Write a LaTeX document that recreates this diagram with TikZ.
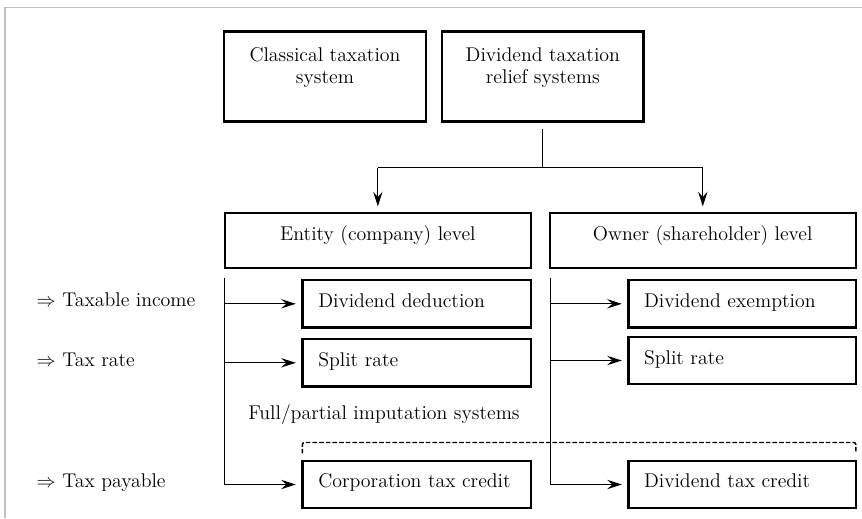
\documentclass[tikz,border=0pt]{standalone}
\usetikzlibrary{arrows.meta,calc}
\newcommand\boxnode[5]{\node[box, minimum width={(#4-#2-1.5)*0.75pt}, minimum height={(#5-#3-1.5)*0.75pt}] (#1) at ({(#2+#4)/2},{(#3+#5)/2}) {};}
\begin{document}
\begin{tikzpicture}[x=0.75pt,y=-0.75pt,
  every node/.style={font=\fontsize{14.9}{16.7}\selectfont, inner sep=0pt, outer sep=0pt},
  box/.style={draw, line width=1.6pt, rectangle},
  conn/.style={line width=0.8pt},
  arr/.style={conn, -{Stealth[length=11pt,width=7pt,inset=4pt]}, shorten >=5pt},
  ltxt/.style={anchor=base west},
  ctxt/.style={anchor=base},
  mtxt/.style={anchor=center, align=center},
  bracket/.style={line width=1.1pt, dash pattern=on 3.5pt off 1.5pt, rounded corners=1.5pt},
  frame/.style={draw={rgb,255:red,192;green,192;blue,192}, line width=1.2pt}
]
\useasboundingbox (0,0) rectangle (862,518);
\draw[frame] (4.7,518) -- (4.7,7.3) -- (862,7.3);

% boxes
\boxnode{classical}{223.3}{30.7}{426.7}{122.3}
\boxnode{relief}{441.3}{30.7}{644.3}{122.3}
\boxnode{entity}{224}{212.3}{531.7}{269}
\boxnode{owner}{549.3}{212.3}{856.3}{269}
\boxnode{dded}{301.7}{279.3}{531.7}{328.3}
\boxnode{splitA}{301.7}{338.3}{531.7}{387.3}
\boxnode{corp}{301.7}{460}{531.7}{509}
\boxnode{dexe}{627.7}{279.3}{856.5}{328.3}
\boxnode{splitB}{627.7}{336}{856.5}{385}
\boxnode{dtc}{627.7}{460}{856.5}{509}

% texts
\node[mtxt] (tclassical) at (325,67.3) {Classical taxation\\system};
\node[mtxt] (trelief) at (542.8,67.3) {Dividend taxation\\relief systems};
\node[ctxt] (tentity) at (377.9,240.7) {Entity (company) level};
\node[ctxt] (towner) at (702.7,240.7) {Owner (shareholder) level};
\node[ltxt] (tdded) at (318.3,307.3) {Dividend deduction};
\node[ltxt] (tsplitA) at (318.3,366.7) {Split rate};
\node[ltxt] (tcorp) at (318.3,487.3) {Corporation tax credit};
\node[ltxt] (tdexe) at (644,307.3) {Dividend exemption};
\node[ltxt] (tsplitB) at (644,364) {Split rate};
\node[ltxt] (tdtc) at (644,487.3) {Dividend tax credit};
\node[ltxt] (tfull) at (248.3,419) {Full/partial imputation systems};
\node[ltxt] (lti) at (36.7,306.7) {$\Rightarrow$ Taxable income};
\node[ltxt] (ltr) at (36.7,366.7) {$\Rightarrow$ Tax rate};
\node[ltxt] (ltp) at (36.7,487.3) {$\Rightarrow$ Tax payable};

% top connectors
\coordinate (hb) at (0,167.7);
\coordinate (top1) at ([yshift=-5.25pt]relief.south);
\draw[conn] (top1) -- (relief.south |- hb);
\draw[conn] (entity.north |- hb) -- (owner.north |- hb);
\draw[arr] (entity.north |- hb) -- (entity.north);
\draw[arr] (owner.north |- hb) -- (owner.north);

% entity trunk
\coordinate (etop) at ([yshift=-7pt]entity.south west);
\draw[arr] (etop) |- (corp.west);
\draw[arr] (etop |- dded.west) -- (dded.west);
\draw[arr] (etop |- splitA.west) -- (splitA.west);

% owner trunk
\coordinate (otop) at ([yshift=-7pt]owner.south west);
\draw[arr] (otop) |- (dtc.west);
\draw[arr] (otop |- dexe.west) -- (dexe.west);
\draw[arr] (otop |- splitB.west) -- (splitB.west);

% dashed bracket
\draw[bracket] ([yshift=5.5pt]corp.north west) -- ([yshift=13.7pt]corp.north west) -- ([yshift=13.7pt]dtc.north east) -- ([yshift=5.5pt]dtc.north east);
\end{tikzpicture}
\end{document}
